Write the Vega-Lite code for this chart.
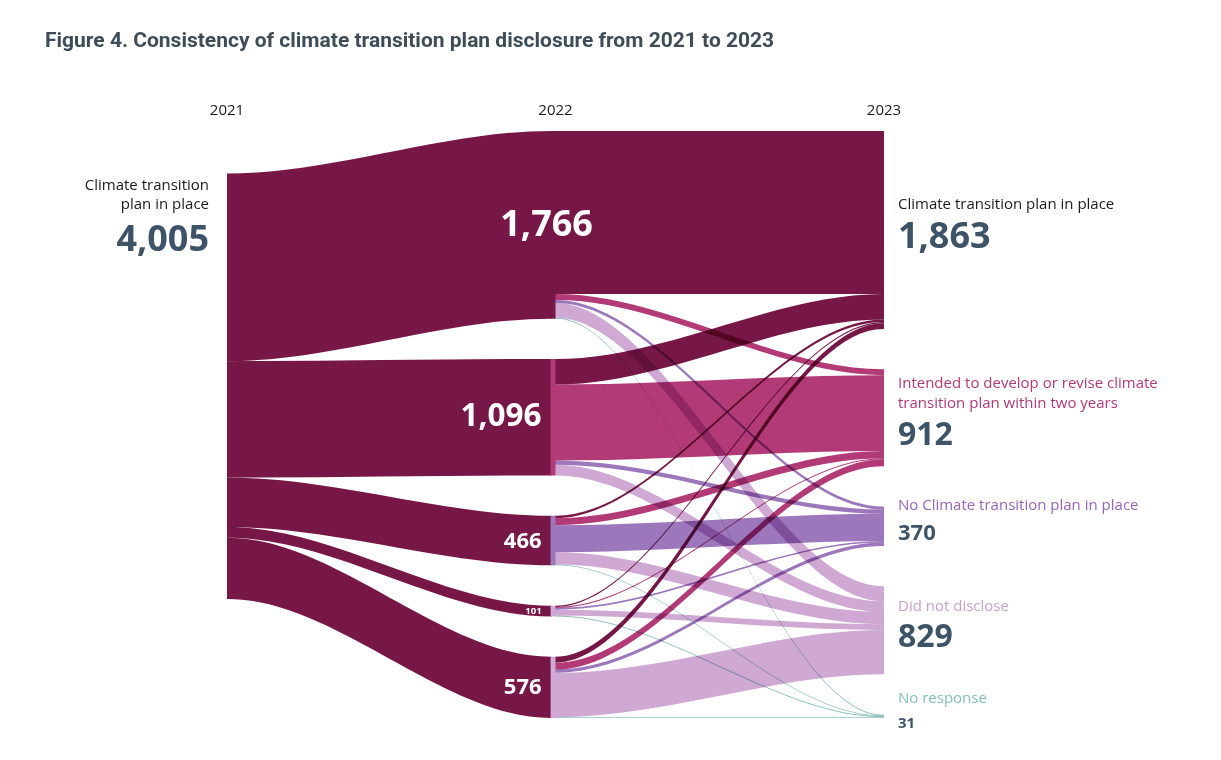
{
  "$schema": "https://vega.github.io/schema/vega-lite/v6.json",
  "width": 657,
  "height": 587,
  "autosize": {"type": "none"},
  "padding": {"left": 227, "top": 131, "right": 337, "bottom": 42},
  "background": "white",
  "config": {"view": {"stroke": null}, "font": "Open Sans"},
  "title": {
    "text": "Figure 4. Consistency of climate transition plan disclosure from 2021 to 2023",
    "anchor": "start", "frame": "group", "dx": -182, "offset": 52,
    "font": "Roboto", "fontSize": 21, "fontWeight": "bold", "color": "#3E4C5A"
  },
  "datasets": {
    "links": [
      {"from": 2021, "to": 2022, "source": "Climate transition plan in place", "sourceRank": 0, "target": "Climate transition plan in place", "targetRank": 0, "value": 1766},
      {"from": 2021, "to": 2022, "source": "Climate transition plan in place", "sourceRank": 0, "target": "Intended to develop or revise climate transition plan within two years", "targetRank": 1, "value": 1096},
      {"from": 2021, "to": 2022, "source": "Climate transition plan in place", "sourceRank": 0, "target": "No Climate transition plan in place", "targetRank": 2, "value": 466},
      {"from": 2021, "to": 2022, "source": "Climate transition plan in place", "sourceRank": 0, "target": "Did not disclose", "targetRank": 3, "value": 101},
      {"from": 2021, "to": 2022, "source": "Climate transition plan in place", "sourceRank": 0, "target": "No response", "targetRank": 4, "value": 576},

      {"from": 2022, "to": 2023, "source": "Climate transition plan in place", "sourceRank": 0, "target": "Climate transition plan in place", "targetRank": 0, "value": 1535},
      {"from": 2022, "to": 2023, "source": "Climate transition plan in place", "sourceRank": 0, "target": "Intended to develop or revise climate transition plan within two years", "targetRank": 1, "value": 55},
      {"from": 2022, "to": 2023, "source": "Climate transition plan in place", "sourceRank": 0, "target": "No Climate transition plan in place", "targetRank": 2, "value": 28},
      {"from": 2022, "to": 2023, "source": "Climate transition plan in place", "sourceRank": 0, "target": "Did not disclose", "targetRank": 3, "value": 140},
      {"from": 2022, "to": 2023, "source": "Climate transition plan in place", "sourceRank": 0, "target": "No response", "targetRank": 4, "value": 8},

      {"from": 2022, "to": 2023, "source": "Intended to develop or revise climate transition plan within two years", "sourceRank": 1, "target": "Climate transition plan in place", "targetRank": 0, "value": 240},
      {"from": 2022, "to": 2023, "source": "Intended to develop or revise climate transition plan within two years", "sourceRank": 1, "target": "Intended to develop or revise climate transition plan within two years", "targetRank": 1, "value": 715},
      {"from": 2022, "to": 2023, "source": "Intended to develop or revise climate transition plan within two years", "sourceRank": 1, "target": "No Climate transition plan in place", "targetRank": 2, "value": 40},
      {"from": 2022, "to": 2023, "source": "Intended to develop or revise climate transition plan within two years", "sourceRank": 1, "target": "Did not disclose", "targetRank": 3, "value": 101},

      {"from": 2022, "to": 2023, "source": "No Climate transition plan in place", "sourceRank": 2, "target": "Climate transition plan in place", "targetRank": 0, "value": 22},
      {"from": 2022, "to": 2023, "source": "No Climate transition plan in place", "sourceRank": 2, "target": "Intended to develop or revise climate transition plan within two years", "targetRank": 1, "value": 66},
      {"from": 2022, "to": 2023, "source": "No Climate transition plan in place", "sourceRank": 2, "target": "No Climate transition plan in place", "targetRank": 2, "value": 255},
      {"from": 2022, "to": 2023, "source": "No Climate transition plan in place", "sourceRank": 2, "target": "Did not disclose", "targetRank": 3, "value": 116},
      {"from": 2022, "to": 2023, "source": "No Climate transition plan in place", "sourceRank": 2, "target": "No response", "targetRank": 4, "value": 7},

      {"from": 2022, "to": 2023, "source": "Did not disclose", "sourceRank": 3, "target": "Climate transition plan in place", "targetRank": 0, "value": 12},
      {"from": 2022, "to": 2023, "source": "Did not disclose", "sourceRank": 3, "target": "Intended to develop or revise climate transition plan within two years", "targetRank": 1, "value": 10},
      {"from": 2022, "to": 2023, "source": "Did not disclose", "sourceRank": 3, "target": "No Climate transition plan in place", "targetRank": 2, "value": 16},
      {"from": 2022, "to": 2023, "source": "Did not disclose", "sourceRank": 3, "target": "Did not disclose", "targetRank": 3, "value": 55},
      {"from": 2022, "to": 2023, "source": "Did not disclose", "sourceRank": 3, "target": "No response", "targetRank": 4, "value": 8},

      {"from": 2022, "to": 2023, "source": "No response", "sourceRank": 4, "target": "Climate transition plan in place", "targetRank": 0, "value": 54},
      {"from": 2022, "to": 2023, "source": "No response", "sourceRank": 4, "target": "Intended to develop or revise climate transition plan within two years", "targetRank": 1, "value": 66},
      {"from": 2022, "to": 2023, "source": "No response", "sourceRank": 4, "target": "No Climate transition plan in place", "targetRank": 2, "value": 31},
      {"from": 2022, "to": 2023, "source": "No response", "sourceRank": 4, "target": "Did not disclose", "targetRank": 3, "value": 417},
      {"from": 2022, "to": 2023, "source": "No response", "sourceRank": 4, "target": "No response", "targetRank": 4, "value": 8}
    ],
    "nodes": [
      {"year": 2021, "rank": 0, "category": "Climate transition plan in place", "value": 4005, "label": ["Climate transition", "plan in place"]},
      {"year": 2022, "rank": 0, "category": "Climate transition plan in place", "value": 1766},
      {"year": 2022, "rank": 1, "category": "Intended to develop or revise climate transition plan within two years", "value": 1096},
      {"year": 2022, "rank": 2, "category": "No Climate transition plan in place", "value": 466},
      {"year": 2022, "rank": 3, "category": "Did not disclose", "value": 101},
      {"year": 2022, "rank": 4, "category": "No response", "value": 576},
      {"year": 2023, "rank": 0, "category": "Climate transition plan in place", "value": 1863, "label": ["Climate transition plan in place"]},
      {"year": 2023, "rank": 1, "category": "Intended to develop or revise climate transition plan within two years", "value": 912, "label": ["Intended to develop or revise climate", "transition plan within two years"]},
      {"year": 2023, "rank": 2, "category": "No Climate transition plan in place", "value": 370, "label": ["No Climate transition plan in place"]},
      {"year": 2023, "rank": 3, "category": "Did not disclose", "value": 829, "label": ["Did not disclose"]},
      {"year": 2023, "rank": 4, "category": "No response", "value": 31, "label": ["No response"]}
    ]
  },
  "layer": [
    {
      "data": {"name": "links"},
      "transform": [
        {"window": [{"op": "sum", "field": "value", "as": "srcEnd"}], "groupby": ["from"], "sort": [{"field": "sourceRank"}], "frame": [null, 0]},
        {"joinaggregate": [{"op": "sum", "field": "value", "as": "srcTotal"}], "groupby": ["from", "source"]},
        {"window": [{"op": "sum", "field": "value", "as": "srcCum"}], "groupby": ["from", "source"], "sort": [{"field": "targetRank"}], "frame": [null, 0]},
        {"window": [{"op": "sum", "field": "value", "as": "tgtEnd"}], "groupby": ["to"], "sort": [{"field": "targetRank"}], "frame": [null, 0]},
        {"joinaggregate": [{"op": "sum", "field": "value", "as": "tgtTotal"}], "groupby": ["to", "target"]},
        {"window": [{"op": "sum", "field": "value", "as": "tgtCum"}], "groupby": ["to", "target"], "sort": [{"field": "sourceRank"}], "frame": [null, 0]},
        {"calculate": "datum.srcEnd - datum.srcTotal + datum.sourceRank * 380 + (datum.from == 2021 ? 400 : 0)", "as": "srcStart"},
        {"calculate": "datum.srcStart + datum.srcCum - datum.value", "as": "sy0"},
        {"calculate": "datum.srcStart + datum.srcCum", "as": "sy1"},
        {"calculate": "datum.tgtEnd - datum.tgtTotal + datum.targetRank * 380", "as": "tgtStart"},
        {"calculate": "datum.tgtStart + datum.tgtCum - datum.value", "as": "ty0"},
        {"calculate": "datum.tgtStart + datum.tgtCum", "as": "ty1"},
        {"calculate": "datum.from == 2021 ? datum.source : datum.target", "as": "colorKey"},
        {"calculate": "datum.from == 2021 ? datum.from : datum.from - 0.002", "as": "xa"},
        {"calculate": "datum.xa + 0.002", "as": "xb"},
        {"calculate": "datum.to == 2022 ? datum.to - 0.012 : datum.to", "as": "xd"},
        {"calculate": "datum.xd - 0.002", "as": "xc"},
        {"calculate": "datum.from + '|' + datum.source + '|' + datum.target", "as": "linkId"},
        {"fold": ["xa", "xb", "xc", "xd"], "as": ["pt", "xpos"]},
        {"calculate": "(datum.pt == 'xa' || datum.pt == 'xb') ? datum.sy0 : datum.ty0", "as": "yTop"},
        {"calculate": "(datum.pt == 'xa' || datum.pt == 'xb') ? datum.sy1 : datum.ty1", "as": "yBot"}
      ],
      "mark": {"type": "area", "interpolate": "monotone", "orient": "vertical", "blend": "multiply"},
      "encoding": {
        "x": {"field": "xpos", "type": "quantitative", "scale": {"domain": [2021, 2023], "nice": false, "zero": false}, "axis": null},
        "y": {"field": "yTop", "type": "quantitative", "stack": null, "scale": {"domain": [0, 5525], "reverse": true, "nice": false, "zero": false}, "axis": null},
        "y2": {"field": "yBot"},
        "color": {
          "field": "colorKey", "type": "nominal", "legend": null,
          "scale": {
            "domain": ["Climate transition plan in place", "Intended to develop or revise climate transition plan within two years", "No Climate transition plan in place", "Did not disclose", "No response"],
            "range": ["#771747", "#B23A77", "#9D77BB", "#CFA9D3", "#8FC1C0"]
          }
        },
        "detail": {"field": "linkId", "type": "nominal"}
      }
    },
    {
      "data": {"name": "links"},
      "transform": [
        {"window": [{"op": "sum", "field": "value", "as": "srcEnd"}], "groupby": ["from"], "sort": [{"field": "sourceRank"}], "frame": [null, 0]},
        {"joinaggregate": [{"op": "sum", "field": "value", "as": "srcTotal"}], "groupby": ["from", "source"]},
        {"calculate": "datum.srcEnd - datum.srcTotal + datum.sourceRank * 380 + (datum.from == 2021 ? 400 : 0)", "as": "srcStart"},
        {"calculate": "datum.srcStart + datum.srcTotal", "as": "nodeEnd"},
        {"filter": "datum.from == 2022"},
        {"joinaggregate": [{"op": "max", "field": "value", "as": "maxv"}], "groupby": ["source"]},
        {"filter": "datum.value == datum.maxv"},
        {"calculate": "datum.from - 0.015", "as": "bx0"}
      ],
      "mark": {"type": "rect"},
      "encoding": {
        "x": {"field": "bx0", "type": "quantitative"},
        "x2": {"field": "from"},
        "y": {"field": "srcStart", "type": "quantitative"},
        "y2": {"field": "nodeEnd"},
        "color": {
          "field": "target", "type": "nominal", "legend": null,
          "scale": {
            "domain": ["Climate transition plan in place", "Intended to develop or revise climate transition plan within two years", "No Climate transition plan in place", "Did not disclose", "No response"],
            "range": ["#771747", "#B23A77", "#9D77BB", "#CFA9D3", "#8FC1C0"]
          }
        }
      }
    },
    {
      "data": {"name": "nodes"},
      "transform": [
        {"filter": "datum.rank == 0"}
      ],
      "mark": {"type": "text", "align": "center", "baseline": "alphabetic", "dy": -16, "fontSize": 15, "font": "Open Sans", "color": "#1a1a1a"},
      "encoding": {
        "x": {"field": "year", "type": "quantitative"},
        "y": {"datum": 0, "type": "quantitative"},
        "text": {"field": "year", "type": "quantitative", "format": "d"}
      }
    },
    {
      "data": {"name": "nodes"},
      "transform": [
        {"window": [{"op": "sum", "field": "value", "as": "cum"}], "groupby": ["year"], "sort": [{"field": "rank"}], "frame": [null, 0]},
        {"calculate": "datum.cum - datum.value + datum.rank * 380 + (datum.year == 2021 ? 400 : 0)", "as": "start"},
        {"filter": "datum.year == 2021"}
      ],
      "mark": {"type": "text", "align": "right", "baseline": "top", "dx": -18, "dy": 5, "fontSize": 15, "lineHeight": 19, "font": "Open Sans", "color": "#1a1a1a"},
      "encoding": {
        "x": {"field": "year", "type": "quantitative"},
        "y": {"field": "start", "type": "quantitative"},
        "text": {"field": "label"}
      }
    },
    {
      "data": {"name": "nodes"},
      "transform": [
        {"window": [{"op": "sum", "field": "value", "as": "cum"}], "groupby": ["year"], "sort": [{"field": "rank"}], "frame": [null, 0]},
        {"calculate": "datum.cum - datum.value + datum.rank * 380 + (datum.year == 2021 ? 400 : 0)", "as": "start"},
        {"filter": "datum.year == 2021"}
      ],
      "mark": {"type": "text", "align": "right", "baseline": "alphabetic", "dx": -18, "dy": 78, "fontSize": 36, "fontWeight": "bold", "font": "Open Sans", "color": "#3D5468"},
      "encoding": {
        "x": {"field": "year", "type": "quantitative"},
        "y": {"field": "start", "type": "quantitative"},
        "text": {"field": "value", "type": "quantitative", "format": ","}
      }
    },
    {
      "data": {"name": "nodes"},
      "transform": [
        {"window": [{"op": "sum", "field": "value", "as": "cum"}], "groupby": ["year"], "sort": [{"field": "rank"}], "frame": [null, 0]},
        {"calculate": "datum.cum - datum.value + datum.rank * 380 + (datum.year == 2021 ? 400 : 0)", "as": "start"},
        {"calculate": "datum.start + datum.value / 2", "as": "mid"},
        {"filter": "datum.year == 2022 && datum.value < 1500"},
        {"calculate": "datum.year - 0.015", "as": "xl"}
      ],
      "mark": {"type": "text", "align": "right", "baseline": "middle", "dx": -9, "fontWeight": "bold", "font": "Open Sans", "color": "white"},
      "encoding": {
        "x": {"field": "xl", "type": "quantitative"},
        "y": {"field": "mid", "type": "quantitative"},
        "text": {"field": "value", "type": "quantitative", "format": ","},
        "size": {"field": "value", "type": "quantitative", "legend": null, "scale": {"type": "threshold", "domain": [200, 1000, 1500], "range": [9.5, 22, 31.5, 36]}}
      }
    },
    {
      "data": {"name": "nodes"},
      "transform": [
        {"window": [{"op": "sum", "field": "value", "as": "cum"}], "groupby": ["year"], "sort": [{"field": "rank"}], "frame": [null, 0]},
        {"calculate": "datum.cum - datum.value + datum.rank * 380 + (datum.year == 2021 ? 400 : 0)", "as": "start"},
        {"calculate": "datum.start + datum.value / 2", "as": "mid"},
        {"filter": "datum.year == 2022 && datum.value >= 1500"},
        {"calculate": "datum.year - 0.015", "as": "xl"}
      ],
      "mark": {"type": "text", "align": "center", "baseline": "middle", "dx": -4, "fontSize": 36, "fontWeight": "bold", "font": "Open Sans", "color": "white"},
      "encoding": {
        "x": {"field": "xl", "type": "quantitative"},
        "y": {"field": "mid", "type": "quantitative"},
        "text": {"field": "value", "type": "quantitative", "format": ","}
      }
    },
    {
      "data": {"name": "nodes"},
      "transform": [
        {"window": [{"op": "sum", "field": "value", "as": "cum"}], "groupby": ["year"], "sort": [{"field": "rank"}], "frame": [null, 0]},
        {"calculate": "datum.cum - datum.value + datum.rank * 380 + (datum.year == 2021 ? 400 : 0)", "as": "start"},
        {"calculate": "datum.start + datum.value / 2", "as": "mid"},
        {"filter": "datum.year == 2023"},
        {"calculate": "datum.mid + (length(datum.label) - 1) * 94", "as": "valY"}
      ],
      "mark": {"type": "text", "align": "left", "baseline": "middle", "dx": 14, "dy": 7, "fontWeight": "bold", "font": "Open Sans", "color": "#3D5468"},
      "encoding": {
        "x": {"field": "year", "type": "quantitative"},
        "y": {"field": "valY", "type": "quantitative"},
        "text": {"field": "value", "type": "quantitative", "format": ","},
        "size": {"field": "value", "type": "quantitative", "legend": null, "scale": {"type": "threshold", "domain": [100, 600, 1500], "range": [15, 22, 32, 36]}}
      }
    },
    {
      "data": {"name": "nodes"},
      "transform": [
        {"window": [{"op": "sum", "field": "value", "as": "cum"}], "groupby": ["year"], "sort": [{"field": "rank"}], "frame": [null, 0]},
        {"calculate": "datum.cum - datum.value + datum.rank * 380 + (datum.year == 2021 ? 400 : 0)", "as": "start"},
        {"calculate": "datum.start + datum.value / 2", "as": "mid"},
        {"filter": "datum.year == 2023"},
        {"calculate": "datum.mid + (length(datum.label) - 1) * 94", "as": "valY"},
        {"calculate": "datum.value >= 1500 ? 36 : datum.value >= 600 ? 32 : datum.value >= 100 ? 22 : 15", "as": "valFont"},
        {"calculate": "datum.valY - (length(datum.label) - 1) * 188 - datum.valFont * 3.39", "as": "labY"}
      ],
      "mark": {"type": "text", "align": "left", "baseline": "middle", "dx": 14, "dy": -13, "fontSize": 15, "lineHeight": 20, "font": "Open Sans"},
      "encoding": {
        "x": {"field": "year", "type": "quantitative"},
        "y": {"field": "labY", "type": "quantitative"},
        "text": {"field": "label"},
        "color": {
          "field": "category", "type": "nominal", "legend": null,
          "scale": {
            "domain": ["Climate transition plan in place", "Intended to develop or revise climate transition plan within two years", "No Climate transition plan in place", "Did not disclose", "No response"],
            "range": ["#1a1a1a", "#B0397A", "#9466B4", "#C8A0CE", "#86BDBE"]
          }
        }
      }
    }
  ],
  "resolve": {"scale": {"color": "independent", "size": "independent"}}
}
